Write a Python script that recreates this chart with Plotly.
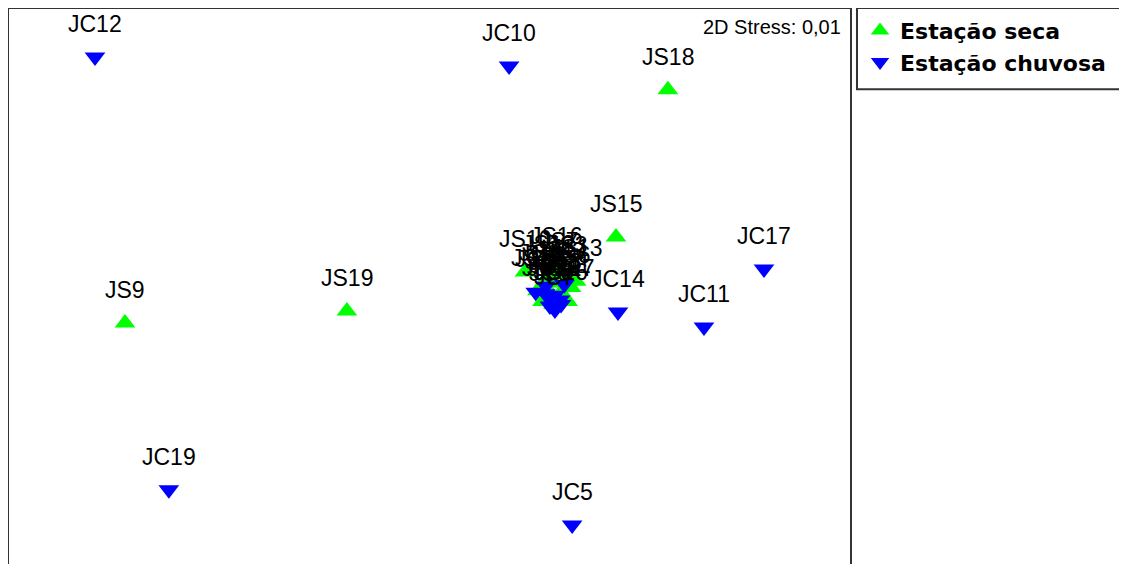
import plotly.graph_objects as go

# NMDS coordinates
seca_labels = ["JS1", "JS2", "JS3", "JS4", "JS5", "JS6", "JS7", "JS8", "JS9", "JS10",
               "JS11", "JS12", "JS13", "JS14", "JS15", "JS16", "JS17", "JS18", "JS19"]
seca_x = [0.122, 0.140, 0.160, 0.100, 0.085, 0.170, 0.135, 0.118, -1.153, 0.033,
          0.152, 0.100, 0.185, 0.070, 0.303, 0.125, 0.160, 0.457, -0.495]
seca_y = [-0.090, -0.120, -0.075, -0.110, -0.150, -0.105, -0.060, -0.160, -0.220, -0.055,
          -0.140, -0.070, -0.085, -0.115, 0.059, -0.045, -0.150, 0.535, -0.181]

chuva_labels = ["JC1", "JC2", "JC3", "JC4", "JC5", "JC6", "JC7", "JC8", "JC9", "JC10",
                "JC11", "JC12", "JC13", "JC14", "JC15", "JC16", "JC17", "JC18", "JC19"]
chuva_x = [0.107, 0.122, 0.150, 0.093, 0.173, 0.107, 0.122, 0.137, 0.065, -0.014,
           0.564, -1.242, 0.122, 0.309, 0.095, 0.140, 0.742, 0.118, -1.023]
chuva_y = [-0.140, -0.160, -0.095, -0.125, -0.874, -0.165, -0.178, -0.145, -0.120, 0.612,
           -0.233, 0.641, -0.130, -0.184, -0.100, -0.160, -0.045, -0.150, -0.760]

stress_text = "2D Stress: 0,01"
FONT = "Liberation Sans, Arial, sans-serif"

fig = go.Figure()
fig.add_trace(go.Scatter(
    x=seca_x, y=seca_y, mode="markers", name="Estação seca",
    marker=dict(symbol="triangle-up", size=18, color="#00FF00", line=dict(width=0)),
    legendgroup="a",
))
fig.add_trace(go.Scatter(
    x=chuva_x, y=chuva_y, mode="markers", name="Estação chuvosa",
    marker=dict(symbol="triangle-down", size=18, color="#0000FF", line=dict(width=0)),
    legendgroup="b",
))

for lx, ly, lt in list(zip(seca_x, seca_y, seca_labels)) + list(zip(chuva_x, chuva_y, chuva_labels)):
    fig.add_annotation(x=lx, y=ly, text=lt, showarrow=False, yshift=33,
                       font=dict(family=FONT, size=23, color="#000000"))

fig.add_annotation(xref="paper", yref="paper", x=0.9905, y=0.966, xanchor="right",
                   yanchor="middle", text=stress_text, showarrow=False,
                   font=dict(family=FONT, size=20, color="#000000"))

line = dict(color="#333333", width=2)
fig.add_shape(type="line", xref="paper", yref="paper", x0=0, x1=0, y0=-0.02, y1=1, line=line)
fig.add_shape(type="line", xref="paper", yref="paper", x0=0, x1=1, y0=1, y1=1, line=line)
fig.add_shape(type="line", xref="paper", yref="paper", x0=1, x1=1, y0=-0.02, y1=1, line=line)
fig.add_shape(type="rect", xref="paper", yref="paper", x0=1.0071, x1=1.4, y0=0.854, y1=1,
              line=line, fillcolor="rgba(0,0,0,0)")

fig.update_layout(
    width=1119, height=556,
    margin=dict(l=0, r=276, t=0, b=0),
    paper_bgcolor="white", plot_bgcolor="white",
    xaxis=dict(range=[-1.5, 1.0], visible=False),
    yaxis=dict(range=[-1.0, 0.8], visible=False),
    showlegend=True,
    legend=dict(x=1.0107, y=0.997, xanchor="left", yanchor="top",
                bgcolor="rgba(0,0,0,0)", borderwidth=0, tracegroupgap=0,
                font=dict(family="DejaVu Sans, sans-serif", size=22, color="#000000",
                          weight="bold")),
)

fig.write_html("out.html")
